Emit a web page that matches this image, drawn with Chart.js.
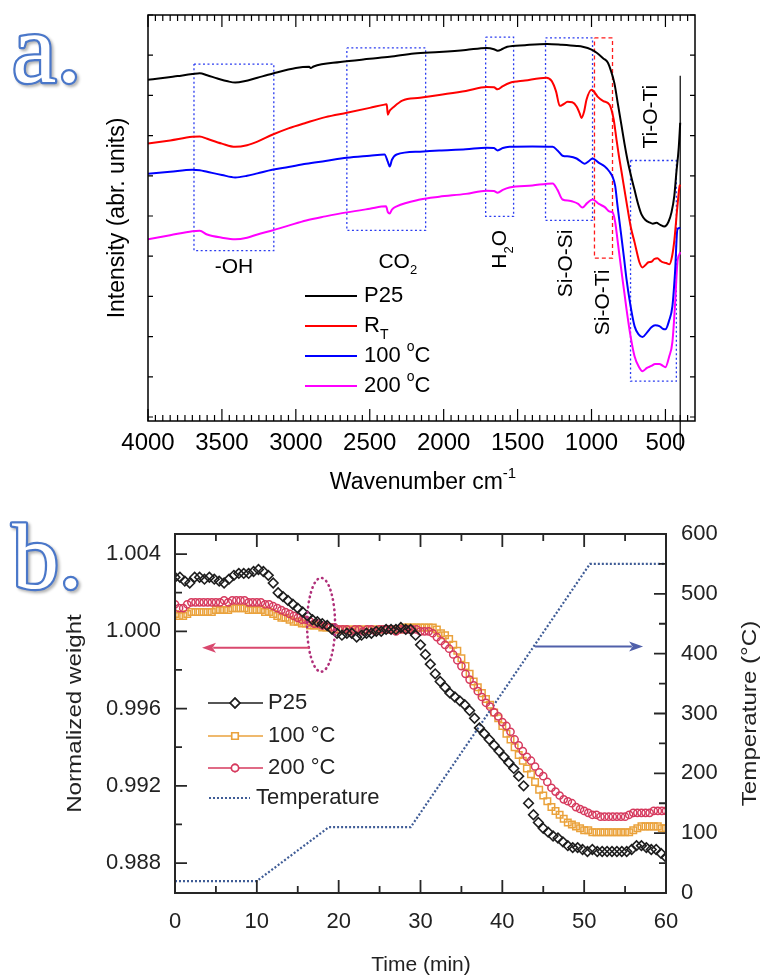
<!DOCTYPE html>
<html>
<head>
<meta charset="utf-8">
<title>FTIR / TGA</title>
<script src="https://cdn.jsdelivr.net/npm/chart.js@4.4.1/dist/chart.umd.min.js"></script>
<style>
  body { margin: 0; background: #fff; }
  canvas { display: block; }
</style>
</head>
<body>
<canvas id="ftir" width="761" height="505"></canvas>
<canvas id="tga" width="761" height="473"></canvas>
<script>
// ---------- panel a: FTIR spectra (wavenumber cm-1 / intensity, arb. units) ----------
const wnP25 = [4000,3900,3800,3700,3650,3600,3530,3460,3410,3350,3260,3160,3000,2910,2900,2880,2700,2500,2365,2200,
  2030,1850,1710,1660,1635,1600,1570,1450,1300,1200,1100,1060,1000,965,920,890,870,845,820,797,
  777,757,733,709,685,662,635,608,585,561,535,507,480,459,440,426,410,400];
const intP25 = [83.9,84.3,84.8,85.3,85.5,85.0,84.2,83.5,83.2,83.5,84.4,85.4,86.8,87.1,86.8,87.2,88.3,89.1,89.6,90.4,
  90.8,91.3,91.8,91.5,91.1,91.6,92.1,92.5,92.8,92.6,92.3,92.1,91.4,90.6,89.2,88.2,86.3,83.0,77.5,72.5,
  68.0,64.0,60.0,56.5,53.0,50.4,49.0,48.4,48.1,48.3,47.8,47.4,48.5,50.9,55.0,60.8,67.0,73.2];

const wnRT = [4000,3850,3700,3650,3600,3500,3410,3330,3260,3160,3050,2930,2800,2655,2500,2400,2385,2378,2365,2345,
  2280,2160,2030,1850,1710,1660,1635,1600,1555,1450,1305,1270,1240,1215,1190,1162,1130,1100,1080,1068,
  1050,1034,1000,980,959,920,878,850,831,815,797,777,757,733,709,690,676,655,635,615,
  595,575,554,535,520,495,473,455,439,420,405,400];
const intRT = [68.0,68.8,69.7,69.8,69.2,68.0,67.2,67.6,68.5,70.2,71.8,73.2,74.6,75.7,76.9,77.7,77.8,75.2,76.2,76.9,
  78.7,79.4,80.1,81.1,82.1,82.0,81.5,82.3,83.1,83.7,84.4,83.6,81.0,77.4,77.8,78.4,78.3,77.2,75.5,74.4,
  76.0,78.9,81.4,80.8,79.7,78.6,77.7,74.0,69.0,65.0,61.0,56.5,52.0,47.0,43.5,40.5,38.5,37.2,37.8,38.5,
  38.6,39.3,39.5,38.9,38.5,38.3,38.0,40.0,44.2,52.0,57.3,57.8];

const wn100 = [4000,3850,3700,3650,3600,3500,3410,3330,3260,3160,3050,2930,2800,2655,2500,2400,2378,2365,2350,2318,
  2160,2030,1850,1710,1660,1635,1600,1555,1400,1263,1230,1196,1150,1101,1070,1047,1020,993,950,910,
  878,858,840,824,800,780,764,740,709,680,655,625,595,570,541,520,500,475,453,435,
  419,405,400];
const int100 = [60.5,61.0,61.5,61.4,61.0,60.2,59.6,60.0,60.6,61.5,62.2,63.0,63.7,64.5,65.0,65.3,63.5,62.3,64.0,65.3,
  66.0,66.3,66.6,67.0,66.9,66.3,66.9,67.2,67.3,67.2,66.3,65.0,64.8,64.3,63.5,63.0,63.6,64.3,63.2,62.3,
  61.0,59.8,57.5,52.5,45.5,39.5,34.5,28.5,22.6,20.5,19.9,21.0,22.3,22.8,22.6,22.0,21.8,24.0,27.5,36.0,
  46.7,47.0,47.1];

const wn200 = [4000,3850,3700,3650,3600,3500,3410,3330,3260,3160,3050,2930,2800,2655,2500,2390,2378,2365,2350,2318,
  2160,2030,1850,1710,1660,1635,1600,1555,1400,1263,1230,1196,1150,1128,1090,1061,1030,993,950,910,
  878,858,840,824,800,780,764,740,709,680,655,625,595,570,541,520,500,475,453,435,
  419,405,400];
const int200 = [44.2,45.2,46.2,46.3,45.4,44.6,44.2,44.6,45.4,46.4,47.6,48.9,49.9,50.9,51.8,52.4,51.0,50.6,51.6,52.4,
  54.1,54.8,55.5,56.3,56.2,55.8,56.5,57.1,57.6,58.1,56.5,54.1,53.8,53.6,53.0,52.1,53.2,54.1,53.0,52.2,
  51.1,50.9,48.5,44.0,37.0,31.5,27.0,21.0,15.1,12.5,11.4,12.2,12.7,13.2,13.2,12.8,12.4,15.0,18.6,28.0,
  38.5,40.5,41.0];

const wnMark = [400, 400];
const intMark = [84.9, -8.4];
const wnTicks = [4000, 3500, 3000, 2500, 2000, 1500, 1000, 500];

// band boxes: [left wn, right wn, top, bottom]
const boxOH = [3689, 3149, 87.8, 41.4];
const boxCO2 = [2655, 2122, 91.8, 46.4];
const boxH2O = [1716, 1527, 94.5, 49.9];
const boxSiOSi = [1311, 993, 94.3, 48.9];
const boxSiOTi = [980, 858, 94.3, 39.5];
const boxTiOTi = [736, 426, 63.8, 8.9];

// ---------- panel b: normalized weight and temperature vs time ----------
const tP25 = [0,0.6,1.2,1.8,2.4,3,3.6,4.2,4.8,5.4,6,6.6,7.2,7.8,8.4,9,9.6,10.2,10.8,11.4,
  12,12.6,13.2,13.8,14.4,15,15.6,16.2,16.8,17.4,18,18.6,19.2,19.8,20.4,21,21.6,22.2,22.8,23.4,
  24,24.6,25.2,25.8,26.4,27,27.6,28.2,28.8,29.4,30,30.6,31.2,31.8,32.4,33,33.6,34.2,34.8,35.4,
  36,36.6,37.2,37.8,38.4,39,39.6,40.2,40.8,41.4,42,42.6,43.2,43.8,44.4,45,45.6,46.2,46.8,47.4,
  48,48.6,49.2,49.8,50.4,51,51.6,52.2,52.8,53.4,54,54.6,55.2,55.8,56.4,57,57.6,58.2,58.8,59.4,60];
const wP25 = [1.0028,1.0028,1.0026,1.0025,1.0028,1.0028,1.0027,1.0028,1.0027,1.0026,
  1.0025,1.0027,1.0029,1.0030,1.0030,1.0030,1.0031,1.0032,1.0031,1.0029,
  1.0025,1.0020,1.0018,1.0016,1.0014,1.0012,1.0010,1.0008,1.0006,1.0005,
  1.0004,1.0003,1.0001,0.9999,0.9998,0.9999,0.9999,0.9997,0.9998,0.9999,
  0.9999,1.0000,1.0000,1.0001,1.0001,1.0001,1.0002,1.0001,1.0001,0.9998,
  0.9993,0.9988,0.9983,0.9978,0.9974,0.9971,0.9968,0.9966,0.9964,0.9962,
  0.9959,0.9955,0.9950,0.9947,0.9944,0.9941,0.9938,0.9935,0.9932,0.9929,
  0.9925,0.9920,0.9911,0.9905,0.9901,0.9898,0.9896,0.9894,0.9893,0.9891,
  0.9889,0.9888,0.9888,0.9887,0.9886,0.9887,0.9886,0.9886,0.9886,0.9886,
  0.9886,0.9886,0.9886,0.9887,0.9889,0.9889,0.9888,0.9887,0.9887,0.9885,0.9883];

const tHalf = [0,0.5,1,1.5,2,2.5,3,3.5,4,4.5,5,5.5,6,6.5,7,7.5,8,8.5,9,9.5,
  10,10.5,11,11.5,12,12.5,13,13.5,14,14.5,15,15.5,16,16.5,17,17.5,18,18.5,19,19.5,
  20,20.5,21,21.5,22,22.5,23,23.5,24,24.5,25,25.5,26,26.5,27,27.5,28,28.5,29,29.5,
  30,30.5,31,31.5,32,32.5,33,33.5,34,34.5,35,35.5,36,36.5,37,37.5,38,38.5,39,39.5,
  40,40.5,41,41.5,42,42.5,43,43.5,44,44.5,45,45.5,46,46.5,47,47.5,48,48.5,49,49.5,
  50,50.5,51,51.5,52,52.5,53,53.5,54,54.5,55,55.5,56,56.5,57,57.5,58,58.5,59,59.5,60];
const w100 = [1.0009,1.0008,1.0008,1.0009,1.0010,1.0010,1.0010,1.0010,1.0010,1.0010,
  1.0011,1.0011,1.0011,1.0011,1.0012,1.0012,1.0012,1.0012,1.0011,1.0011,
  1.0011,1.0011,1.0010,1.0010,1.0009,1.0008,1.0007,1.0007,1.0006,1.0005,
  1.0005,1.0004,1.0004,1.0003,1.0003,1.0003,1.0002,1.0002,1.0002,1.0001,
  1.0001,1.0001,1.0001,1.0001,1.0001,1.0001,1.0001,1.0001,1.0001,1.0001,
  1.0001,1.0001,1.0001,1.0001,1.0001,1.0001,1.0002,1.0002,1.0002,1.0002,
  1.0002,1.0002,1.0002,1.0002,1.0001,0.9999,0.9998,0.9996,0.9993,0.9990,
  0.9986,0.9982,0.9978,0.9974,0.9971,0.9968,0.9965,0.9962,0.9958,0.9955,
  0.9951,0.9947,0.9944,0.9940,0.9936,0.9933,0.9929,0.9926,0.9922,0.9918,
  0.9915,0.9912,0.9909,0.9907,0.9905,0.9903,0.9901,0.9900,0.9899,0.9898,
  0.9897,0.9897,0.9896,0.9896,0.9896,0.9896,0.9896,0.9896,0.9896,0.9896,
  0.9896,0.9896,0.9897,0.9898,0.9899,0.9899,0.9899,0.9899,0.9899,0.9898,0.9898];
const w200 = [1.0014,1.0012,1.0012,1.0014,1.0015,1.0015,1.0015,1.0015,1.0015,1.0015,
  1.0015,1.0015,1.0016,1.0015,1.0016,1.0016,1.0016,1.0016,1.0015,1.0015,
  1.0015,1.0015,1.0014,1.0014,1.0013,1.0012,1.0011,1.0010,1.0009,1.0008,
  1.0007,1.0006,1.0006,1.0005,1.0004,1.0004,1.0003,1.0003,1.0002,1.0002,
  1.0001,1.0001,1.0001,1.0000,1.0001,1.0001,1.0000,1.0001,1.0001,1.0000,
  1.0001,1.0001,1.0001,1.0001,1.0000,1.0001,1.0001,1.0001,1.0001,1.0001,
  1.0000,1.0000,1.0000,0.9999,0.9997,0.9995,0.9993,0.9991,0.9988,0.9985,
  0.9982,0.9978,0.9975,0.9972,0.9969,0.9966,0.9963,0.9961,0.9958,0.9956,
  0.9953,0.9951,0.9948,0.9944,0.9941,0.9938,0.9935,0.9933,0.9930,0.9927,
  0.9925,0.9922,0.9919,0.9917,0.9915,0.9913,0.9912,0.9911,0.9909,0.9908,
  0.9907,0.9906,0.9905,0.9905,0.9904,0.9904,0.9904,0.9904,0.9904,0.9904,
  0.9904,0.9905,0.9906,0.9906,0.9906,0.9906,0.9906,0.9907,0.9907,0.9907,0.9907];

const tTemp = [0, 10, 18.8, 28.8, 50.7, 60];
const temp = [20, 20, 110, 110, 550, 550];

const timeTicks = [0, 10, 20, 30, 40, 50, 60];
const weightTicks = [0.988, 0.992, 0.996, 1.000, 1.004];
const tempTicks = [0, 100, 200, 300, 400, 500, 600];

// ---------- helpers ----------
const FAM = "'Liberation Sans', Arial, sans-serif";
Chart.defaults.font.family = FAM;
Chart.defaults.color = '#000';

const toXY = (xs, ys) => xs.map((x, i) => ({ x: x, y: ys[i] }));
const rectXY = b => [
  { x: b[0], y: b[2] }, { x: b[1], y: b[2] }, { x: b[1], y: b[3] }, { x: b[0], y: b[3] }, { x: b[0], y: b[2] }
];

// text with sub/superscripts; parts = [[text, ''|'sub'|'sup'], ...]
function richText(ctx, parts, x, y, size, align) {
  const fontFor = k => (k ? Math.round(size * 0.64) : size) + 'px ' + FAM;
  const widths = parts.map(p => { ctx.font = fontFor(p[1]); return ctx.measureText(p[0]).width; });
  const total = widths.reduce((a, b) => a + b, 0);
  let cx = align === 'center' ? x - total / 2 : (align === 'right' ? x - total : x);
  ctx.textAlign = 'left';
  ctx.textBaseline = 'middle';
  parts.forEach((p, i) => {
    ctx.font = fontFor(p[1]);
    const dy = p[1] === 'sub' ? size * 0.4 : (p[1] === 'sup' ? -size * 0.38 : 0);
    ctx.fillText(p[0], cx, y + dy);
    cx += widths[i];
  });
}

function rotText(ctx, parts, x, y, size, stretch) {
  ctx.save();
  ctx.translate(x, y);
  ctx.rotate(-Math.PI / 2);
  if (stretch) ctx.scale(stretch, 1);
  richText(ctx, parts, 0, 0, size, 'center');
  ctx.restore();
}

function outlinedLetter(ctx, text, x, y, size) {
  ctx.save();
  ctx.font = size + "px 'Liberation Serif', 'DejaVu Serif', serif";
  ctx.textAlign = 'left';
  ctx.textBaseline = 'alphabetic';
  ctx.shadowColor = 'rgba(0,0,0,0.3)';
  ctx.shadowBlur = 3;
  ctx.shadowOffsetX = 2;
  ctx.shadowOffsetY = 2;
  ctx.lineJoin = 'round';
  ctx.lineWidth = 4.5;
  ctx.strokeStyle = '#4a77c9';
  ctx.strokeText(text, x, y);
  ctx.shadowColor = 'transparent';
  ctx.fillStyle = '#fff';
  ctx.fillText(text, x, y);
  ctx.restore();
}

function arrow(ctx, x1, y1, x2, y2, color) {
  const ang = Math.atan2(y2 - y1, x2 - x1), hl = 14, hw = 5;
  ctx.save();
  ctx.strokeStyle = color;
  ctx.fillStyle = color;
  ctx.lineWidth = 2.2;
  ctx.beginPath();
  ctx.moveTo(x1, y1);
  ctx.lineTo(x2 - hl * 0.8 * Math.cos(ang), y2 - hl * 0.8 * Math.sin(ang));
  ctx.stroke();
  ctx.beginPath();
  ctx.moveTo(x2, y2);
  ctx.lineTo(x2 - hl * Math.cos(ang) - hw * Math.sin(ang), y2 - hl * Math.sin(ang) + hw * Math.cos(ang));
  ctx.lineTo(x2 - hl * 0.75 * Math.cos(ang), y2 - hl * 0.75 * Math.sin(ang));
  ctx.lineTo(x2 - hl * Math.cos(ang) + hw * Math.sin(ang), y2 - hl * Math.sin(ang) - hw * Math.cos(ang));
  ctx.closePath();
  ctx.fill();
  ctx.restore();
}

// ---------- panel a ----------
const specLine = (label, xs, ys, color) => ({
  label: label, data: toXY(xs, ys), showLine: true, borderColor: color, borderWidth: 2,
  pointRadius: 0, cubicInterpolationMode: 'monotone', fill: false
});
const boxLine = (b, color, dash) => ({
  label: '', data: rectXY(b), showLine: true, borderColor: color, borderWidth: 1.3,
  borderDash: dash, pointRadius: 0, tension: 0, fill: false
});

const decorA = {
  id: 'decorA',
  afterDatasetsDraw(chart) {
    const { ctx, chartArea: a, scales: { x, y } } = chart;
    ctx.save();
    ctx.strokeStyle = '#000';
    ctx.lineWidth = 1.5;
    ctx.strokeRect(a.left, a.top, a.right - a.left, a.bottom - a.top);
    ctx.lineWidth = 1.2;
    ctx.beginPath();
    for (let v = 350; v <= 4000; v += 50) {
      const px = x.getPixelForValue(v), len = v % 500 === 0 ? 12 : 6;
      ctx.moveTo(px, a.bottom); ctx.lineTo(px, a.bottom - len);
      ctx.moveTo(px, a.top); ctx.lineTo(px, a.top + len);
    }
    for (let v = 0; v <= 100; v += 10) {
      const py = y.getPixelForValue(v);
      ctx.moveTo(a.left, py); ctx.lineTo(a.left + 5, py);
      ctx.moveTo(a.right, py); ctx.lineTo(a.right - 5, py);
    }
    ctx.stroke();

    // band labels
    ctx.fillStyle = '#000';
    const P = (wn, v) => [x.getPixelForValue(wn), y.getPixelForValue(v)];
    let p = P(3419, 37.2);
    richText(ctx, [['-OH', '']], p[0], p[1], 21, 'center');
    p = P(2351, 38.5);
    richText(ctx, [['CO', ''], ['2', 'sub']], p[0] + 6, p[1], 21, 'center');
    p = P(1615, 41.7);
    rotText(ctx, [['H', ''], ['2', 'sub'], ['O', '']], p[0], p[1], 21);
    p = P(1169, 38.2);
    rotText(ctx, [['Si-O-Si', '']], p[0], p[1], 21);
    p = P(919, 28.5);
    rotText(ctx, [['Si-O-Ti', '']], p[0], p[1], 21);
    p = P(595, 74.7);
    rotText(ctx, [['Ti-O-Ti', '']], p[0], p[1], 21);

    // legend
    const leg = [
      ['#000000', [['P25', '']]],
      ['#ff0000', [['R', ''], ['T', 'sub']]],
      ['#0000ff', [['100 ', ''], ['o', 'sup'], ['C', '']]],
      ['#ff00ff', [['200 ', ''], ['o', 'sup'], ['C', '']]]
    ];
    leg.forEach((it, i) => {
      const yy = 296 + i * 30;
      ctx.strokeStyle = it[0];
      ctx.lineWidth = 2;
      ctx.beginPath();
      ctx.moveTo(305, yy); ctx.lineTo(357, yy);
      ctx.stroke();
      ctx.fillStyle = '#000';
      richText(ctx, it[1], 364, yy, 22, 'left');
    });

    // axis titles
    rotText(ctx, [['Intensity (abr. units)', '']], 118, (a.top + a.bottom) / 2, 23);
    richText(ctx, [['Wavenumber cm', ''], ['-1', 'sup']], 423, 483, 23, 'center');

    outlinedLetter(ctx, 'a.', 12, 82, 100);
    ctx.restore();
  }
};

new Chart(document.getElementById('ftir'), {
  type: 'scatter',
  data: {
    datasets: [
      specLine('P25', wnP25, intP25, '#000000'),
      specLine('RT', wnRT, intRT, '#ff0000'),
      specLine('100 °C', wn100, int100, '#0000ff'),
      specLine('200 °C', wn200, int200, '#ff00ff'),
      { label: '', data: toXY(wnMark, intMark), showLine: true, borderColor: '#000', borderWidth: 1.2,
        pointRadius: 0, clip: false },
      boxLine(boxOH, '#2b3cf0', [2, 2.5]),
      boxLine(boxCO2, '#2b3cf0', [2, 2.5]),
      boxLine(boxH2O, '#2b3cf0', [2, 2.5]),
      boxLine(boxSiOSi, '#2b3cf0', [2, 2.5]),
      boxLine(boxSiOTi, '#ff1a1a', [4, 3]),
      boxLine(boxTiOTi, '#2b3cf0', [2, 2.5])
    ]
  },
  options: {
    responsive: false,
    animation: false,
    devicePixelRatio: 1,
    layout: { padding: { top: 15, left: 0, right: 66, bottom: 0 } },
    plugins: { legend: { display: false }, tooltip: { enabled: false } },
    scales: {
      x: {
        type: 'linear', reverse: true, min: 300, max: 4000,
        grid: { display: false, drawTicks: false }, border: { display: false },
        afterBuildTicks: s => { s.ticks = wnTicks.map(v => ({ value: v })); },
        afterFit: s => { s.height = 84; },
        ticks: { font: { size: 24 }, color: '#000', padding: 8, maxRotation: 0, autoSkip: false,
          callback: v => String(v) }
      },
      y: {
        min: -1, max: 100,
        grid: { display: false, drawTicks: false }, border: { display: false },
        ticks: { display: false },
        afterFit: s => { s.width = 148; }
      }
    }
  },
  plugins: [decorA]
});

// ---------- panel b ----------
const decorB = {
  id: 'decorB',
  afterDatasetsDraw(chart) {
    const { ctx, chartArea: a, scales: { x, y, y2 } } = chart;
    ctx.save();
    ctx.strokeStyle = '#262626';
    ctx.lineWidth = 2;
    ctx.strokeRect(a.left, a.top, a.right - a.left, a.bottom - a.top);
    ctx.lineWidth = 1.8;
    ctx.beginPath();
    for (let i = 0; i <= 12; i++) {
      const px = x.getPixelForValue(i * 5), len = i % 2 === 0 ? 13 : 7;
      ctx.moveTo(px, a.bottom); ctx.lineTo(px, a.bottom - len);
      ctx.moveTo(px, a.top); ctx.lineTo(px, a.top + len);
    }
    for (let i = 0; i <= 8; i++) {
      const py = y.getPixelForValue(0.988 + i * 0.002), len = i % 2 === 0 ? 12 : 7;
      ctx.moveTo(a.left, py); ctx.lineTo(a.left + len, py);
    }
    for (let i = 1; i < 12; i++) {
      const py = y2.getPixelForValue(i * 50), len = i % 2 === 0 ? 12 : 7;
      ctx.moveTo(a.right, py); ctx.lineTo(a.right - len, py);
    }
    ctx.stroke();

    // dotted ellipse around the crossing region
    const cx = x.getPixelForValue(17.85), cy = y.getPixelForValue(1.00034);
    const rx = x.getPixelForValue(17.85 + 1.71) - cx, ry = cy - y.getPixelForValue(1.00034 + 0.00243);
    ctx.strokeStyle = '#b0307a';
    ctx.lineWidth = 2.6;
    ctx.lineCap = 'round';
    ctx.setLineDash([0.5, 4.5]);
    ctx.beginPath();
    ctx.ellipse(cx, cy, rx, ry, 0, 0, Math.PI * 2);
    ctx.stroke();
    ctx.setLineDash([]);
    ctx.lineCap = 'butt';

    // axis arrows
    arrow(ctx, x.getPixelForValue(16.4), y.getPixelForValue(0.99915), x.getPixelForValue(3.3), y.getPixelForValue(0.99915), '#d9486e');
    arrow(ctx, x.getPixelForValue(44), y2.getPixelForValue(412), x.getPixelForValue(57.2), y2.getPixelForValue(412), '#5060aa');

    // legend
    const ds = chart.data.datasets;
    const rows = [[ds[0], 198, 'P25'], [ds[2], 231, '100 °C'], [ds[1], 263, '200 °C']];
    rows.forEach(r => {
      const d = r[0], yy = r[1];
      ctx.strokeStyle = d.pointBorderColor;
      ctx.lineWidth = 1.6;
      ctx.beginPath();
      ctx.moveTo(208, yy); ctx.lineTo(263, yy);
      ctx.stroke();
      Chart.helpers.drawPoint(ctx, { pointStyle: d.pointStyle, radius: d.pointRadius, borderWidth: d.pointBorderWidth, rotation: 0 }, 235, yy);
      ctx.fillStyle = '#fff';
      ctx.fill();
      ctx.stroke();
      ctx.fillStyle = '#222';
      richText(ctx, [[r[2], '']], 268, yy, 22, 'left');
    });
    ctx.strokeStyle = ds[3].borderColor;
    ctx.lineWidth = 2;
    ctx.setLineDash(ds[3].borderDash);
    ctx.beginPath();
    ctx.moveTo(209, 293); ctx.lineTo(250, 293);
    ctx.stroke();
    ctx.setLineDash([]);
    ctx.fillStyle = '#222';
    richText(ctx, [['Temperature', '']], 256, 293, 22, 'left');

    // titles
    rotText(ctx, [['Normalized weight', '']], 75, (a.top + a.bottom) / 2, 21, 1.15);
    rotText(ctx, [['Temperature (°C)', '']], 750, (a.top + a.bottom) / 2, 21, 1.15);
    richText(ctx, [['Time (min)', '']], 421, 460, 21, 'center');

    outlinedLetter(ctx, 'b.', 12, 83, 94);
    ctx.restore();
  }
};

new Chart(document.getElementById('tga'), {
  type: 'scatter',
  data: {
    datasets: [
      { label: 'P25', data: toXY(tP25, wP25), yAxisID: 'y', showLine: false,
        pointStyle: 'rectRot', pointRadius: 4.8, pointBorderWidth: 1.6,
        pointBorderColor: '#1e1e1e', pointBackgroundColor: 'rgba(255,255,255,0)' },
      { label: '200 °C', data: toXY(tHalf, w200), yAxisID: 'y', showLine: false,
        pointStyle: 'circle', pointRadius: 3.6, pointBorderWidth: 1.5,
        pointBorderColor: '#d63a5e', pointBackgroundColor: 'rgba(255,255,255,0)' },
      { label: '100 °C', data: toXY(tHalf, w100), yAxisID: 'y', showLine: false,
        pointStyle: 'rect', pointRadius: 4.6, pointBorderWidth: 1.5,
        pointBorderColor: '#eaa23c', pointBackgroundColor: 'rgba(255,255,255,0)' },
      { label: 'Temperature', data: toXY(tTemp, temp), yAxisID: 'y2', showLine: true,
        borderColor: '#3f5c96', borderWidth: 2.2, borderDash: [2, 2], pointRadius: 0, tension: 0 }
    ]
  },
  options: {
    responsive: false,
    animation: false,
    devicePixelRatio: 1,
    layout: { padding: { top: 29, left: 0, right: 0, bottom: 0 } },
    plugins: { legend: { display: false }, tooltip: { enabled: false } },
    scales: {
      x: {
        type: 'linear', min: 0, max: 60,
        grid: { display: false, drawTicks: false }, border: { display: false },
        afterBuildTicks: s => { s.ticks = timeTicks.map(v => ({ value: v })); },
        afterFit: s => { s.height = 85; },
        ticks: { font: { size: 22 }, color: '#222', padding: 16, maxRotation: 0, autoSkip: false }
      },
      y: {
        position: 'left', min: 0.98645, max: 1.00504,
        grid: { display: false, drawTicks: false }, border: { display: false },
        afterBuildTicks: s => { s.ticks = weightTicks.map(v => ({ value: v })); },
        afterFit: s => { s.width = 175; },
        ticks: { font: { size: 22 }, color: '#222', padding: 14, callback: v => v.toFixed(3) }
      },
      y2: {
        position: 'right', min: 0, max: 600,
        grid: { display: false, drawTicks: false }, border: { display: false },
        afterBuildTicks: s => { s.ticks = tempTicks.map(v => ({ value: v })); },
        afterFit: s => { s.width = 95; },
        ticks: { font: { size: 22 }, color: '#222', padding: 15 }
      }
    }
  },
  plugins: [decorB]
});
</script>
</body>
</html>
